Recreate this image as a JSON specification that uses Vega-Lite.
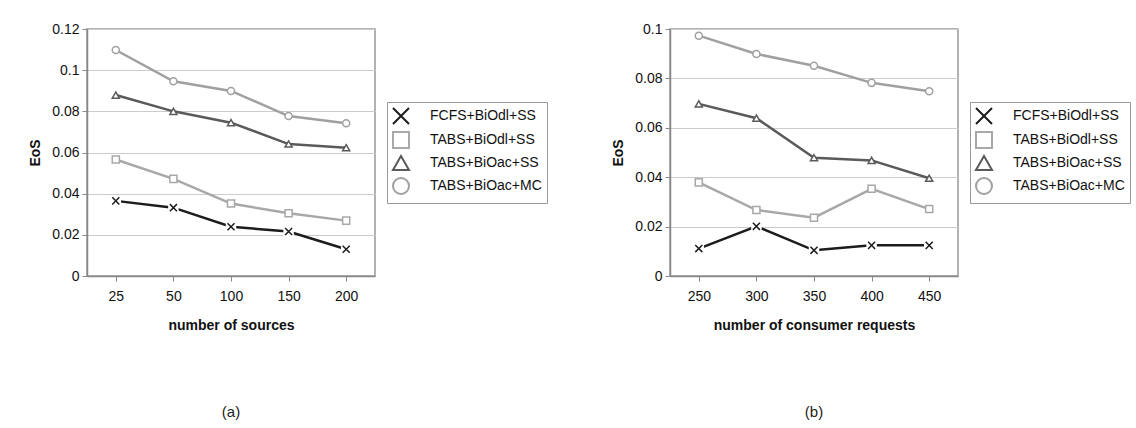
{
  "$schema": "https://vega.github.io/schema/vega-lite/v6.json",
  "padding": {"left": 28, "top": 21, "right": 5, "bottom": 5},
  "background": "white",
  "datasets": {
    "a": [
      {"x": "25", "s": "FCFS+BiOdl+SS", "v": 0.0365},
      {"x": "50", "s": "FCFS+BiOdl+SS", "v": 0.0332},
      {"x": "100", "s": "FCFS+BiOdl+SS", "v": 0.0239},
      {"x": "150", "s": "FCFS+BiOdl+SS", "v": 0.0216},
      {"x": "200", "s": "FCFS+BiOdl+SS", "v": 0.013},
      {"x": "25", "s": "TABS+BiOdl+SS", "v": 0.0566},
      {"x": "50", "s": "TABS+BiOdl+SS", "v": 0.0472},
      {"x": "100", "s": "TABS+BiOdl+SS", "v": 0.0352},
      {"x": "150", "s": "TABS+BiOdl+SS", "v": 0.0305},
      {"x": "200", "s": "TABS+BiOdl+SS", "v": 0.0269},
      {"x": "25", "s": "TABS+BiOac+SS", "v": 0.0879},
      {"x": "50", "s": "TABS+BiOac+SS", "v": 0.08},
      {"x": "100", "s": "TABS+BiOac+SS", "v": 0.0745},
      {"x": "150", "s": "TABS+BiOac+SS", "v": 0.0641},
      {"x": "200", "s": "TABS+BiOac+SS", "v": 0.0623},
      {"x": "25", "s": "TABS+BiOac+MC", "v": 0.1098},
      {"x": "50", "s": "TABS+BiOac+MC", "v": 0.0946},
      {"x": "100", "s": "TABS+BiOac+MC", "v": 0.0899},
      {"x": "150", "s": "TABS+BiOac+MC", "v": 0.0777},
      {"x": "200", "s": "TABS+BiOac+MC", "v": 0.0742}
    ],
    "b": [
      {"x": "250", "s": "FCFS+BiOdl+SS", "v": 0.0111},
      {"x": "300", "s": "FCFS+BiOdl+SS", "v": 0.0201},
      {"x": "350", "s": "FCFS+BiOdl+SS", "v": 0.0104},
      {"x": "400", "s": "FCFS+BiOdl+SS", "v": 0.0124},
      {"x": "450", "s": "FCFS+BiOdl+SS", "v": 0.0124},
      {"x": "250", "s": "TABS+BiOdl+SS", "v": 0.0379},
      {"x": "300", "s": "TABS+BiOdl+SS", "v": 0.0267},
      {"x": "350", "s": "TABS+BiOdl+SS", "v": 0.0236},
      {"x": "400", "s": "TABS+BiOdl+SS", "v": 0.0353},
      {"x": "450", "s": "TABS+BiOdl+SS", "v": 0.0271},
      {"x": "250", "s": "TABS+BiOac+SS", "v": 0.0697},
      {"x": "300", "s": "TABS+BiOac+SS", "v": 0.0639},
      {"x": "350", "s": "TABS+BiOac+SS", "v": 0.0479},
      {"x": "400", "s": "TABS+BiOac+SS", "v": 0.0468},
      {"x": "450", "s": "TABS+BiOac+SS", "v": 0.0396},
      {"x": "250", "s": "TABS+BiOac+MC", "v": 0.0973},
      {"x": "300", "s": "TABS+BiOac+MC", "v": 0.0899},
      {"x": "350", "s": "TABS+BiOac+MC", "v": 0.0851},
      {"x": "400", "s": "TABS+BiOac+MC", "v": 0.0782},
      {"x": "450", "s": "TABS+BiOac+MC", "v": 0.0748}
    ]
  },
  "hconcat": [
    {
      "width": 288,
      "height": 247,
      "data": {"name": "a"},
      "title": {"text": "(a)", "orient": "bottom", "anchor": "middle", "frame": "group", "offset": 73, "fontSize": 15, "fontWeight": "normal", "font": "Liberation Sans", "color": "#222"},
      "encoding": {
        "x": {"field": "x", "type": "ordinal", "title": "number of sources",
              "scale": {"domain": ["25", "50", "100", "150", "200"], "paddingInner": 0, "paddingOuter": 0}},
        "y": {"field": "v", "type": "quantitative", "title": "EoS",
              "scale": {"domain": [0, 0.12], "nice": false},
              "axis": {"values": [0, 0.02, 0.04, 0.06, 0.08, 0.1, 0.12]}}
      },
      "layer": [
        {"mark": {"type": "line", "strokeWidth": 2.5},
         "encoding": {"stroke": {"field": "s", "type": "nominal", "title": null,
                       "scale": {"domain": ["FCFS+BiOdl+SS", "TABS+BiOdl+SS", "TABS+BiOac+SS", "TABS+BiOac+MC"],
                                 "range": ["#1c1c1c", "#a8a8a8", "#5a5a5a", "#a0a0a0"]}}}},
        {"transform": [{"filter": "datum.s === 'FCFS+BiOdl+SS'"}],
         "mark": {"type": "point", "shape": "square", "filled": true, "fill": "white", "opacity": 1, "size": 110, "strokeWidth": 0},
         "encoding": {}},
        {"mark": {"type": "point", "filled": true, "fill": "white", "opacity": 1, "size": 50, "strokeWidth": 1.5},
         "encoding": {
           "stroke": {"field": "s", "type": "nominal", "title": null,
                      "legend": {"encode": {"symbols": {"shape": {"value": {"expr": "datum.value === 'FCFS+BiOdl+SS' ? 'M-1,0H0.55M1.45,0H3M0.7,-0.3L1.3,0.3M0.7,0.3L1.3,-0.3' : datum.value === 'TABS+BiOdl+SS' ? 'M-1,0H0.7M1.3,0H3M0.7,-0.3H1.3V0.3H0.7Z' : datum.value === 'TABS+BiOac+SS' ? 'M-1,0H0.65M1.35,0H3M0.65,0.3L1,-0.35L1.35,0.3Z' : 'M-1,0H0.7M1.3,0H3M0.7,0A0.3,0.3 0 1,0 1.3,0A0.3,0.3 0 1,0 0.7,0Z'"}}}}}},
           "shape": {"field": "s", "type": "nominal", "title": null, "legend": null,
                     "scale": {"domain": ["FCFS+BiOdl+SS", "TABS+BiOdl+SS", "TABS+BiOac+SS", "TABS+BiOac+MC"],
                               "range": ["M-1,-1L1,1M-1,1L1,-1", "square", "triangle-up", "circle"]}}}}
      ]
    },
    {
      "width": 288,
      "height": 247,
      "data": {"name": "b"},
      "title": {"text": "(b)", "orient": "bottom", "anchor": "middle", "frame": "group", "offset": 73, "fontSize": 15, "fontWeight": "normal", "font": "Liberation Sans", "color": "#222"},
      "encoding": {
        "x": {"field": "x", "type": "ordinal", "title": "number of consumer requests",
              "scale": {"domain": ["250", "300", "350", "400", "450"], "paddingInner": 0, "paddingOuter": 0}},
        "y": {"field": "v", "type": "quantitative", "title": "EoS",
              "scale": {"domain": [0, 0.1], "nice": false},
              "axis": {"values": [0, 0.02, 0.04, 0.06, 0.08, 0.1]}}
      },
      "layer": [
        {"mark": {"type": "line", "strokeWidth": 2.5},
         "encoding": {"stroke": {"field": "s", "type": "nominal", "title": null,
                       "scale": {"domain": ["FCFS+BiOdl+SS", "TABS+BiOdl+SS", "TABS+BiOac+SS", "TABS+BiOac+MC"],
                                 "range": ["#1c1c1c", "#a8a8a8", "#5a5a5a", "#a0a0a0"]}}}},
        {"transform": [{"filter": "datum.s === 'FCFS+BiOdl+SS'"}],
         "mark": {"type": "point", "shape": "square", "filled": true, "fill": "white", "opacity": 1, "size": 110, "strokeWidth": 0},
         "encoding": {}},
        {"mark": {"type": "point", "filled": true, "fill": "white", "opacity": 1, "size": 50, "strokeWidth": 1.5},
         "encoding": {
           "stroke": {"field": "s", "type": "nominal", "title": null,
                      "legend": {"encode": {"symbols": {"shape": {"value": {"expr": "datum.value === 'FCFS+BiOdl+SS' ? 'M-1,0H0.55M1.45,0H3M0.7,-0.3L1.3,0.3M0.7,0.3L1.3,-0.3' : datum.value === 'TABS+BiOdl+SS' ? 'M-1,0H0.7M1.3,0H3M0.7,-0.3H1.3V0.3H0.7Z' : datum.value === 'TABS+BiOac+SS' ? 'M-1,0H0.65M1.35,0H3M0.65,0.3L1,-0.35L1.35,0.3Z' : 'M-1,0H0.7M1.3,0H3M0.7,0A0.3,0.3 0 1,0 1.3,0A0.3,0.3 0 1,0 0.7,0Z'"}}}}}},
           "shape": {"field": "s", "type": "nominal", "title": null, "legend": null,
                     "scale": {"domain": ["FCFS+BiOdl+SS", "TABS+BiOdl+SS", "TABS+BiOac+SS", "TABS+BiOac+MC"],
                               "range": ["M-1,-1L1,1M-1,1L1,-1", "square", "triangle-up", "circle"]}}}}
      ]
    }
  ],
  "spacing": 62,
  "resolve": {
    "scale": {"x": "independent", "y": "independent", "stroke": "independent", "shape": "independent"},
    "legend": {"stroke": "independent", "shape": "independent"}
  },
  "config": {
    "font": "Liberation Sans",
    "view": {"stroke": "#999", "strokeWidth": 1.5},
    "axis": {
      "domainColor": "#888", "domainWidth": 1.5, "tickColor": "#888", "tickWidth": 1, "tickSize": 5,
      "labelFont": "Liberation Sans", "labelFontSize": 14, "labelColor": "#111",
      "titleFont": "Liberation Sans", "titleFontSize": 14, "titleFontWeight": "bold", "titleColor": "#111",
      "gridColor": "#cccccc", "gridWidth": 1
    },
    "axisX": {"grid": false, "labelAngle": 0, "labelPadding": 8, "titlePadding": 15, "tickBand": "extent"},
    "axisY": {"grid": true, "labelPadding": 3, "titlePadding": 9, "format": ".2~f"},
    "legend": {
      "orient": "none", "legendX": 300, "legendY": 73,
      "strokeColor": "#999", "strokeWidth": 1, "padding": 5,
      "labelFont": "Liberation Sans", "labelFontSize": 14, "labelColor": "#111",
      "symbolSize": 256, "labelOffset": 20, "rowPadding": 0, "symbolStrokeWidth": 2,
      "symbolFillColor": "white",
      "symbolOpacity": 1
    }
  }
}
